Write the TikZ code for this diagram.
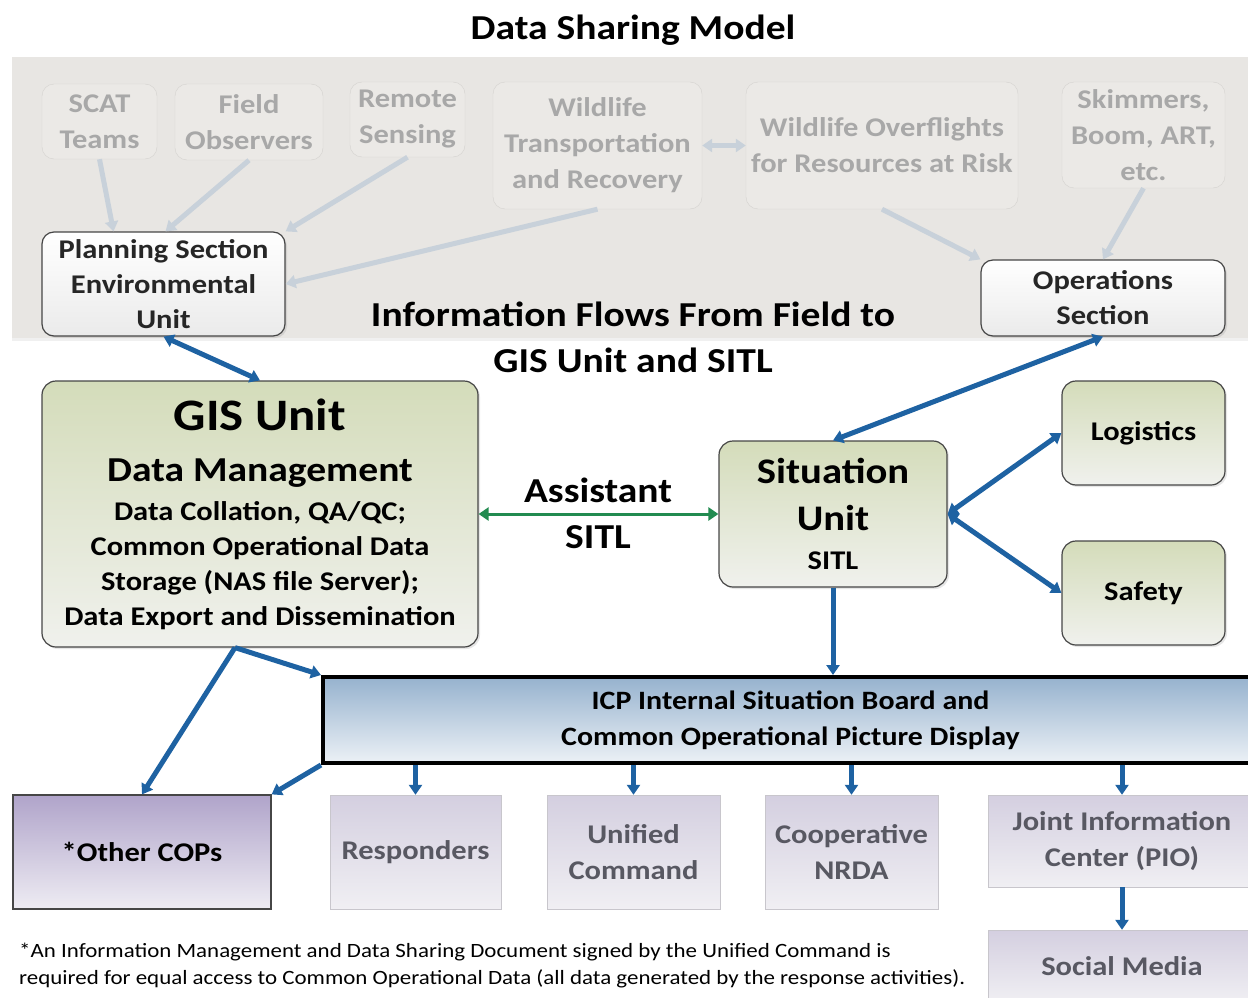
\documentclass[tikz,border=0pt]{standalone}
\usepackage{fontspec}
\setmainfont{Carlito}[FakeStretch=1.13]
\usetikzlibrary{arrows.meta,shadows}

\definecolor{panelgray}{RGB}{232,230,227}
\definecolor{fadefill}{RGB}{235,233,230}
\definecolor{fadeline}{RGB}{212,210,207}
\definecolor{fadetext}{RGB}{168,168,168}
\definecolor{fadearrow}{RGB}{200,209,218}
\definecolor{flowblue}{RGB}{30,98,162}
\definecolor{flowgreen}{RGB}{34,139,80}
\definecolor{boxline}{RGB}{70,70,70}
\definecolor{olivetop}{RGB}{212,220,186}
\definecolor{olivebot}{RGB}{240,241,237}
\definecolor{icptop}{RGB}{150,178,206}
\definecolor{icpbot}{RGB}{236,241,246}
\definecolor{coptop}{RGB}{176,164,202}
\definecolor{copbot}{RGB}{238,236,243}
\definecolor{lavtop}{RGB}{212,207,224}
\definecolor{lavbot}{RGB}{240,239,243}
\definecolor{lavline}{RGB}{200,198,204}
\definecolor{lavtext}{RGB}{88,88,98}

\newcommand{\fsz}[2]{\fontsize{#1}{#2}\selectfont}

\begin{document}
\begin{tikzpicture}[x=1pt,y=-1pt,
    >={Triangle[length=10pt,width=13pt]},
    fadebox/.style={draw=fadeline, fill=fadefill, rounded corners=12pt, inner sep=0pt,
      text=fadetext, align=center, font=\fsz{27}{36}\bfseries},
    whitebox/.style={draw=boxline, line width=1.2pt, rounded corners=12pt, inner sep=0pt,
      top color=white, bottom color=black!8, align=center, font=\fsz{27}{35}\bfseries,
      text=black!85, drop shadow={opacity=0.2,shadow xshift=2pt,shadow yshift=-2pt}},
    greenbox/.style={draw=boxline, line width=1.2pt, rounded corners=14pt, inner sep=0pt,
      top color=olivetop, bottom color=olivebot, align=center, font=\fsz{27}{35}\bfseries,
      drop shadow={opacity=0.2,shadow xshift=2pt,shadow yshift=-2pt}},
    lavbox/.style={draw=lavline, inner sep=0pt, top color=lavtop, bottom color=lavbot,
      text=lavtext, align=center, font=\fsz{27}{36}\bfseries},
    bigtext/.style={align=center, font=\fsz{35}{46}\bfseries},
    flow/.style={draw=flowblue, line width=5pt},
    fadeflow/.style={draw=fadearrow, line width=5pt, ->}]
\useasboundingbox (0,0) rectangle (1248,998);

% field side (faded)
\path[fill=panelgray, drop shadow={opacity=0.12,shadow xshift=0pt,shadow yshift=-3pt}] (12,57) rectangle (1262,338);
\node (title) at (633,30) {\fsz{35}{40}\bfseries Data Sharing Model};

\node[fadebox, minimum width=115pt, minimum height=75pt] (scat) at (99.5,121.5) {SCAT\\Teams};
\node[fadebox, minimum width=148pt, minimum height=76pt] (fieldobs) at (249,122) {Field\\Observers};
\node[fadebox, minimum width=115pt, minimum height=75pt] (remote) at (407.5,119.5) {Remote\\Sensing};
\node[fadebox, minimum width=209pt, minimum height=127pt] (wltrans) at (597.5,145.5) {Wildlife\\Transportation\\and Recovery};
\node[fadebox, minimum width=272pt, minimum height=127pt] (overflt) at (882,145.5) {Wildlife Overflights\\for Resources at Risk};
\node[fadebox, minimum width=163pt, minimum height=106pt] (skim) at (1143.5,135) {Skimmers,\\Boom, ART,\\etc.};

\node[whitebox, minimum width=243pt, minimum height=104pt] (planning) at (163.5,284) {Planning Section\\Environmental\\Unit};
\node[whitebox, minimum width=244pt, minimum height=76pt] (ops) at (1103,298) {Operations\\Section};

\draw[fadeflow] (scat.south) -- ([xshift=-50pt]planning.north);
\draw[fadeflow] (fieldobs.south) -- ([xshift=2pt]planning.north);
\draw[fadeflow] (remote.south) -- (planning.north east);
\draw[fadeflow] (wltrans.south) -- (planning.east);
\draw[fadeflow,<->] (wltrans.east) -- (overflt.west);
\draw[fadeflow] (overflt.south) -- (ops.north west);
\draw[fadeflow] (skim.south) -- (ops.north);

\node[bigtext] (flows) at (633,337) {Information Flows From Field to\\GIS Unit and SITL};

% units
\node[greenbox, minimum width=436pt, minimum height=266pt] (gis) at (260,514)
  {{\fsz{45}{50}GIS Unit}\\[16pt]{\fsz{35}{40}Data Management}\\[4pt]Data Collation, QA/QC;\\Common Operational Data\\Storage (NAS file Server);\\Data Export and Dissemination};
\node[bigtext] (assist) at (598,513) {Assistant\\SITL};
\node[greenbox, minimum width=228pt, minimum height=146pt, font=\fsz{36}{47}\bfseries] (situ) at (833,514)
  {Situation\\Unit\\[-8pt]{\fsz{27}{35}SITL}};
\node[greenbox, minimum width=163pt, minimum height=104pt] (logi) at (1143.5,433) {Logistics};
\node[greenbox, minimum width=163pt, minimum height=104pt] (safety) at (1143.5,593) {Safety};

% board and users
\node[draw=black, line width=4pt, inner sep=0pt, top color=icptop, bottom color=icpbot,
  minimum width=935pt, minimum height=86pt, align=center, font=\fsz{26.5}{36}\bfseries] (icp) at (790.5,720)
  {ICP Internal Situation Board and\\Common Operational Picture Display};
\node[draw=boxline, line width=1.2pt, inner sep=0pt, top color=coptop, bottom color=copbot,
  minimum width=258pt, minimum height=114pt, font=\fsz{27}{35}\bfseries] (othercop) at (142,852) {*Other COPs};
\node[lavbox, minimum width=171pt, minimum height=114pt] (resp) at (415.5,852) {Responders};
\node[lavbox, minimum width=173pt, minimum height=114pt] (uc) at (633.5,852) {Unified\\Command};
\node[lavbox, minimum width=173pt, minimum height=114pt] (nrda) at (851.5,852) {Cooperative\\NRDA};
\node[lavbox, minimum width=268pt, minimum height=92pt] (jic) at (1122,841) {Joint Information\\Center (PIO)};
\node[lavbox, minimum width=268pt, minimum height=72pt] (social) at (1122,966) {Social Media};

\node[anchor=west, align=left, inner sep=0pt, font=\fsz{20.3}{27}] (note) at (19,966)
  {*An Information Management and Data Sharing Document signed by the Unified Command is\\required for equal access to Common Operational Data (all data generated by the response activities).};

% flows
\draw[flow,<->] (planning.south) -- (gis.north);
\draw[flow,<->] (ops.south) -- (situ.north);
\draw[flow,<->] (situ.east) -- (logi.west);
\draw[flow,<->] (situ.east) -- (safety.west);
\draw[flow,->] (situ.south) -- (situ.south |- icp.north);
\draw[flow,<->,draw=flowgreen,line width=3pt] (gis.east) -- (situ.west);
\coordinate (gisout) at ([xshift=-25pt]gis.south);
\draw[flow,->] (gisout) -- (icp.north west);
\draw[flow,->] (gisout) -- (othercop.north);
\draw[flow,->] (icp.south west) -- (othercop.north east);
\foreach \n in {resp,uc,nrda,jic}
  \draw[flow,->] (\n.north |- icp.south) -- (\n.north);
\draw[flow,->] (jic.south) -- (social.north);
\end{tikzpicture}
\end{document}
